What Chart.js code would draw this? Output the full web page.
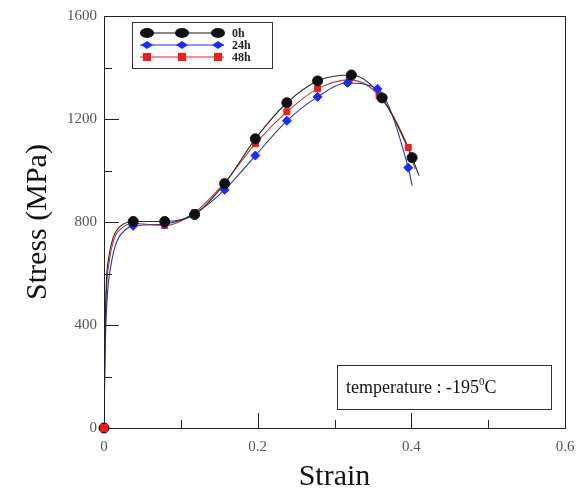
<!DOCTYPE html>
<html>
<head>
<meta charset="utf-8">
<script src="https://cdn.jsdelivr.net/npm/chart.js@4/dist/chart.umd.min.js"></script>
<style>
  html, body { margin: 0; padding: 0; background: #fff; }
</style>
</head>
<body>
<canvas id="chart" width="587" height="495"></canvas>
<script>
const seriesLabels = ["0h", "24h", "48h"];
const xTicks = [0, 0.2, 0.4, 0.6];
const yTicks = [0, 400, 800, 1200, 1600];

// measured points (markers)
const strain0h = [0, 0.038, 0.079, 0.118, 0.157, 0.197, 0.238, 0.278, 0.322, 0.362, 0.401];
const stress0h = [0, 802, 802, 829, 949, 1123, 1263, 1348, 1371, 1282, 1050];
const strain24h = [0, 0.038, 0.079, 0.118, 0.157, 0.197, 0.238, 0.278, 0.317, 0.356, 0.396];
const stress24h = [0, 785, 792, 833, 925, 1058, 1193, 1286, 1340, 1317, 1011];
const strain48h = [0, 0.038, 0.079, 0.118, 0.157, 0.197, 0.238, 0.278, 0.319, 0.358, 0.396];
const stress48h = [0, 794, 786, 837, 953, 1104, 1228, 1317, 1352, 1290, 1089];

// elastic rise and tail of each curve (no markers)
const rise0hStrain = [0.001, 0.003, 0.006, 0.012, 0.022];
const rise0hStress = [300, 560, 660, 740, 785];
const rise24hStrain = [0.0015, 0.004, 0.009, 0.016, 0.026];
const rise24hStress = [300, 500, 630, 720, 765];
const rise48hStrain = [0.001, 0.003, 0.007, 0.014, 0.024];
const rise48hStress = [280, 520, 650, 740, 778];
const tail0hStrain = [0.41], tail0hStress = [980];
const tail24hStrain = [0.401], tail24hStress = [941];
const tail48hStrain = [0.405], tail48hStress = [1005];

const toPoints = (xs, ys) => xs.map((x, i) => ({ x, y: ys[i] }));
const curve = (rx, ry, mx, my, tx, ty) =>
  toPoints([mx[0], ...rx, ...mx.slice(1), ...tx], [my[0], ...ry, ...my.slice(1), ...ty]);

const styles = [
  { line: "#2a2a2a", fill: "#111111", shape: "circle", r: 5 },
  { line: "#2a35a0", fill: "#1a2cff", shape: "rectRot", r: 4.5 },
  { line: "#b83a3a", fill: "#ee1c1c", shape: "rect", r: 4.2 }
];

const curves = [
  curve(rise0hStrain, rise0hStress, strain0h, stress0h, tail0hStrain, tail0hStress),
  curve(rise24hStrain, rise24hStress, strain24h, stress24h, tail24hStrain, tail24hStress),
  curve(rise48hStrain, rise48hStress, strain48h, stress48h, tail48hStrain, tail48hStress)
];
const markers = [
  toPoints(strain0h, stress0h),
  toPoints(strain24h, stress24h),
  toPoints(strain48h, stress48h)
];

const datasets = [];
seriesLabels.forEach((label, i) => {
  datasets.push({
    label: label + " pts",
    data: markers[i],
    showLine: false,
    clip: false,
    pointStyle: styles[i].shape,
    pointRadius: styles[i].r,
    backgroundColor: styles[i].fill,
    borderColor: styles[i].fill,
    borderWidth: 1
  });
});
seriesLabels.forEach((label, i) => {
  datasets.push({
    label,
    data: curves[i],
    showLine: true,
    borderColor: styles[i].line,
    borderWidth: 1.1,
    pointRadius: 0,
    cubicInterpolationMode: "monotone",
    fill: false
  });
});

const serif = "'Liberation Serif', 'DejaVu Serif', serif";

// ticks pointing inward plus frame, legend box and note box
const decorations = {
  id: "decorations",
  afterDatasetsDraw(chart) {
    const { ctx, chartArea: a, scales: { x, y } } = chart;
    ctx.save();
    ctx.strokeStyle = "#222";
    ctx.lineWidth = 1;
    ctx.strokeRect(a.left + 0.5, a.top + 0.5, a.right - a.left, a.bottom - a.top);
    ctx.beginPath();
    for (let v = 0.1; v < 0.6; v += 0.1) {
      const px = Math.round(x.getPixelForValue(v)) + 0.5;
      const len = Math.abs(v / 0.2 - Math.round(v / 0.2)) < 1e-6 ? 15 : 8;
      ctx.moveTo(px, a.bottom);
      ctx.lineTo(px, a.bottom - len);
    }
    for (let v = 200; v < 1600; v += 200) {
      const py = Math.round(y.getPixelForValue(v)) + 0.5;
      const len = v % 400 === 0 ? 15 : 8;
      ctx.moveTo(a.left, py);
      ctx.lineTo(a.left + len, py);
    }
    ctx.stroke();

    // origin marker sits above the frame line
    ctx.fillStyle = styles[2].fill;
    ctx.fillRect(x.getPixelForValue(0) - 4, y.getPixelForValue(0) - 4, 8, 8);

    // legend
    const lx = 132, ly = 22, lw = 140, lh = 46;
    ctx.fillStyle = "#fff";
    ctx.fillRect(lx, ly, lw, lh);
    ctx.strokeStyle = "#333";
    ctx.strokeRect(lx + 0.5, ly + 0.5, lw, lh);
    seriesLabels.forEach((label, i) => {
      const rowY = ly + 11 + i * 12;
      ctx.strokeStyle = styles[i].fill;
      ctx.lineWidth = 1.2;
      ctx.beginPath();
      ctx.moveTo(lx + 8, rowY);
      ctx.lineTo(lx + 92, rowY);
      ctx.stroke();
      [lx + 15, lx + 50, lx + 86].forEach((mx) => {
        ctx.fillStyle = styles[i].fill;
        ctx.beginPath();
        if (i === 0) ctx.ellipse(mx, rowY, 7, 5, 0, 0, Math.PI * 2);
        else if (i === 1) { ctx.moveTo(mx - 6, rowY); ctx.lineTo(mx, rowY - 4); ctx.lineTo(mx + 6, rowY); ctx.lineTo(mx, rowY + 4); ctx.closePath(); }
        else ctx.rect(mx - 4, rowY - 4, 8, 8);
        ctx.fill();
      });
      ctx.fillStyle = "#222";
      ctx.font = "bold 12px " + serif;
      ctx.textBaseline = "middle";
      ctx.fillText(label, lx + 100, rowY + 1);
    });

    // note box
    const nx = 337, ny = 365, nw = 214, nh = 44;
    ctx.fillStyle = "#fff";
    ctx.fillRect(nx, ny, nw, nh);
    ctx.strokeStyle = "#333";
    ctx.lineWidth = 1;
    ctx.strokeRect(nx + 0.5, ny + 0.5, nw, nh);
    ctx.fillStyle = "#111";
    ctx.textBaseline = "alphabetic";
    ctx.font = "18px " + serif;
    const main = "temperature : -195";
    ctx.fillText(main, nx + 9, ny + 28);
    const w1 = ctx.measureText(main).width;
    ctx.font = "11px " + serif;
    ctx.fillText("0", nx + 9 + w1, ny + 20);
    const w2 = ctx.measureText("0").width;
    ctx.font = "18px " + serif;
    ctx.fillText("C", nx + 9 + w1 + w2, ny + 28);
    ctx.restore();
  }
};

new Chart(document.getElementById("chart"), {
  type: "scatter",
  data: { datasets },
  plugins: [decorations],
  options: {
    responsive: false,
    animation: false,
    devicePixelRatio: 1,
    layout: { padding: { left: 0, right: 22, top: 15, bottom: 0 } },
    plugins: { legend: { display: false }, tooltip: { enabled: false } },
    scales: {
      x: {
        type: "linear",
        min: 0,
        max: 0.6,
        afterBuildTicks: (s) => { s.ticks = xTicks.map((v) => ({ value: v })); },
        afterFit: (s) => { s.height = 67; },
        grid: { display: false, drawTicks: false },
        border: { display: false },
        ticks: {
          padding: 10,
          color: "#555",
          font: { family: serif, size: 15 },
          callback: (v) => String(v)
        },
        title: {
          display: true,
          text: "Strain",
          color: "#111",
          font: { family: serif, size: 30 },
          padding: { top: 9, bottom: 0 }
        }
      },
      y: {
        type: "linear",
        min: 0,
        max: 1600,
        afterBuildTicks: (s) => { s.ticks = yTicks.map((v) => ({ value: v })); },
        afterFit: (s) => { s.width = 104; },
        grid: { display: false, drawTicks: false },
        border: { display: false },
        ticks: {
          padding: 7,
          color: "#555",
          font: { family: serif, size: 15 },
          callback: (v) => String(v)
        },
        title: {
          display: true,
          text: "Stress (MPa)",
          color: "#111",
          font: { family: serif, size: 30 },
          padding: { top: 20, bottom: 0 }
        }
      }
    }
  }
});
</script>
</body>
</html>
